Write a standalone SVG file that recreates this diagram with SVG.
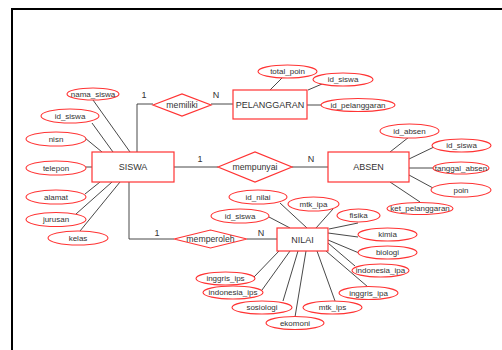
<svg xmlns="http://www.w3.org/2000/svg" width="502" height="350" viewBox="0 0 502 350">
<style>
  .ent{fill:#fff;stroke:#FF3333;stroke-width:1.2}
  .rel{fill:#fff;stroke:#FF3333;stroke-width:1.2}
  .att{fill:#fff;stroke:#FF3333;stroke-width:1.1}
  .t{font-family:"Liberation Sans",Arial,sans-serif;fill:#333;text-anchor:middle;dominant-baseline:central}
  .te{font-size:9px}
  .tr{font-size:8.7px}
  .ta{font-size:8px}
  .c{font-family:"Liberation Sans",Arial,sans-serif;fill:#333;font-size:9px;text-anchor:middle}
  .e{stroke:#333;stroke-width:0.9;fill:none}
</style>
<rect x="0" y="0" width="502" height="350" fill="#fff"/>
<rect x="12" y="9" width="600" height="400" fill="none" stroke="#000" stroke-width="2"/>

<g id="connectors">
  <!-- SISWA relations -->
  <polyline class="e" points="137,152 137,104 153,104"/>
  <line class="e" x1="211" y1="104" x2="233" y2="104"/>
  <line class="e" x1="174" y1="167" x2="218" y2="167"/>
  <line class="e" x1="292" y1="167" x2="328" y2="167"/>
  <polyline class="e" points="129,182 129,239 174,239"/>
  <line class="e" x1="247" y1="239" x2="277" y2="239"/>
  <!-- SISWA attributes -->
  <line class="e" x1="93" y1="100" x2="130" y2="152"/>
  <line class="e" x1="92" y1="123" x2="113" y2="152"/>
  <line class="e" x1="85" y1="138" x2="102" y2="152"/>
  <line class="e" x1="86" y1="167" x2="92" y2="167"/>
  <line class="e" x1="85" y1="194" x2="100" y2="182"/>
  <line class="e" x1="76" y1="214" x2="112" y2="182"/>
  <line class="e" x1="80" y1="231" x2="120" y2="182"/>
  <!-- PELANGGARAN attributes -->
  <line class="e" x1="270" y1="90" x2="282" y2="78"/>
  <line class="e" x1="308" y1="90" x2="322" y2="84"/>
  <line class="e" x1="307" y1="105" x2="321" y2="105"/>
  <!-- ABSEN attributes -->
  <line class="e" x1="390" y1="152" x2="409" y2="137"/>
  <line class="e" x1="409" y1="159" x2="434" y2="147"/>
  <line class="e" x1="409" y1="168" x2="433" y2="168"/>
  <line class="e" x1="409" y1="175" x2="433" y2="188"/>
  <line class="e" x1="390" y1="182" x2="420" y2="202"/>
  <!-- NILAI attributes -->
  <line class="e" x1="280" y1="203" x2="307" y2="228"/>
  <line class="e" x1="269" y1="217" x2="290" y2="228"/>
  <line class="e" x1="333" y1="209" x2="316" y2="228"/>
  <line class="e" x1="329" y1="229" x2="358" y2="223"/>
  <line class="e" x1="328" y1="233" x2="358" y2="237"/>
  <line class="e" x1="328" y1="240" x2="359" y2="253"/>
  <line class="e" x1="328" y1="243" x2="355" y2="266"/>
  <line class="e" x1="326" y1="251" x2="368" y2="287"/>
  <line class="e" x1="317" y1="251" x2="335" y2="301"/>
  <line class="e" x1="306" y1="251" x2="295" y2="317"/>
  <line class="e" x1="298" y1="251" x2="283" y2="301"/>
  <line class="e" x1="290" y1="251" x2="262" y2="290"/>
  <line class="e" x1="279" y1="251" x2="254" y2="277"/>
  <!-- cardinalities -->
  <text class="c" x="144" y="98">1</text>
  <text class="c" x="216" y="98">N</text>
  <text class="c" x="200" y="162">1</text>
  <text class="c" x="311" y="162">N</text>
  <text class="c" x="157" y="236">1</text>
  <text class="c" x="261" y="236">N</text>
</g>

<g id="SISWA"><rect class="ent" x="92" y="152" width="82" height="30"/><text class="t te" x="133" y="167">SISWA</text></g>
<g id="PELANGGARAN"><rect class="ent" x="233" y="90" width="74" height="29"/><text class="t te" x="270" y="104.5">PELANGGARAN</text></g>
<g id="ABSEN"><rect class="ent" x="328" y="152" width="81" height="30"/><text class="t te" x="368.5" y="167">ABSEN</text></g>
<g id="NILAI"><rect class="ent" x="277" y="228" width="51" height="23"/><text class="t te" x="302.5" y="239.5">NILAI</text></g>

<g id="memiliki"><polygon class="rel" points="153,105 182,94 211,105 182,116"/><text class="t tr" x="182" y="105">memiliki</text></g>
<g id="mempunyai"><polygon class="rel" points="218,167 255,152 292,167 255,182"/><text class="t tr" x="255" y="167">mempunyai</text></g>
<g id="memperoleh"><polygon class="rel" points="174,239 210.5,230 247,239 210.5,248"/><text class="t tr" x="210.5" y="239">memperoleh</text></g>

<g id="siswa_nama_siswa"><ellipse class="att" cx="93" cy="94" rx="26" ry="6"/><text class="t ta" x="93" y="94">nama_siswa</text></g>
<g id="siswa_id_siswa"><ellipse class="att" cx="70" cy="116" rx="29" ry="7"/><text class="t ta" x="70" y="116">id_siswa</text></g>
<g id="siswa_nisn"><ellipse class="att" cx="56" cy="139" rx="30" ry="7"/><text class="t ta" x="56" y="139">nisn</text></g>
<g id="siswa_telepon"><ellipse class="att" cx="56" cy="168" rx="30" ry="7"/><text class="t ta" x="56" y="168">telepon</text></g>
<g id="siswa_alamat"><ellipse class="att" cx="56" cy="197" rx="30" ry="7"/><text class="t ta" x="56" y="197">alamat</text></g>
<g id="siswa_jurusan"><ellipse class="att" cx="56" cy="219.5" rx="30" ry="7"/><text class="t ta" x="56" y="219.5">jurusan</text></g>
<g id="siswa_kelas"><ellipse class="att" cx="78" cy="238" rx="30" ry="7"/><text class="t ta" x="78" y="238">kelas</text></g>

<g id="pel_total_poin"><ellipse class="att" cx="287.5" cy="71.5" rx="29.5" ry="6.5"/><text class="t ta" x="287.5" y="71.5">total_poin</text></g>
<g id="pel_id_siswa"><ellipse class="att" cx="343" cy="79.5" rx="30" ry="6.5"/><text class="t ta" x="343" y="79.5">id_siswa</text></g>
<g id="pel_id_pelanggaran"><ellipse class="att" cx="358" cy="105" rx="37" ry="6.5"/><text class="t ta" x="358" y="105">id_pelanggaran</text></g>

<g id="absen_id_absen"><ellipse class="att" cx="409.5" cy="131" rx="29.5" ry="7"/><text class="t ta" x="409.5" y="131">id_absen</text></g>
<g id="absen_id_siswa"><ellipse class="att" cx="461.5" cy="145.5" rx="29.5" ry="6.5"/><text class="t ta" x="461.5" y="145.5">id_siswa</text></g>
<g id="absen_tanggal_absen"><ellipse class="att" cx="461" cy="168" rx="28" ry="6"/><text class="t ta" x="461" y="168">tanggal_absen</text></g>
<g id="absen_poin"><ellipse class="att" cx="461" cy="190" rx="30" ry="7"/><text class="t ta" x="461" y="190">poin</text></g>
<g id="absen_ket_pelanggaran"><ellipse class="att" cx="420" cy="208.5" rx="33" ry="6"/><text class="t ta" x="420" y="208.5">ket_pelanggaran</text></g>

<g id="nilai_id_nilai"><ellipse class="att" cx="258" cy="197" rx="29" ry="7"/><text class="t ta" x="258" y="197">id_nilai</text></g>
<g id="nilai_id_siswa"><ellipse class="att" cx="240" cy="216" rx="29" ry="7"/><text class="t ta" x="240" y="216">id_siswa</text></g>
<g id="nilai_mtk_ipa"><ellipse class="att" cx="313.5" cy="204" rx="25.5" ry="7"/><text class="t ta" x="313.5" y="204">mtk_ipa</text></g>
<g id="nilai_fisika"><ellipse class="att" cx="358.5" cy="215.5" rx="21.5" ry="6.5"/><text class="t ta" x="358.5" y="215.5">fisika</text></g>
<g id="nilai_kimia"><ellipse class="att" cx="387.5" cy="234.5" rx="29.5" ry="6.5"/><text class="t ta" x="387.5" y="234.5">kimia</text></g>
<g id="nilai_biologi"><ellipse class="att" cx="387.5" cy="252.5" rx="29.5" ry="6.5"/><text class="t ta" x="387.5" y="252.5">biologi</text></g>
<g id="nilai_indonesia_ipa"><ellipse class="att" cx="380.5" cy="270.5" rx="28.5" ry="6.5"/><text class="t ta" x="380.5" y="270.5">indonesia_ipa</text></g>
<g id="nilai_inggris_ipa"><ellipse class="att" cx="368.5" cy="293" rx="29.5" ry="6.5"/><text class="t ta" x="368.5" y="293">inggris_ipa</text></g>
<g id="nilai_mtk_ips"><ellipse class="att" cx="332.5" cy="307.5" rx="29.5" ry="6.5"/><text class="t ta" x="332.5" y="307.5">mtk_ips</text></g>
<g id="nilai_ekomoni"><ellipse class="att" cx="295" cy="323" rx="29" ry="6.5"/><text class="t ta" x="295" y="323">ekomoni</text></g>
<g id="nilai_sosiologi"><ellipse class="att" cx="262" cy="307.5" rx="30" ry="6.5"/><text class="t ta" x="262" y="307.5">sosiologi</text></g>
<g id="nilai_indonesia_ips"><ellipse class="att" cx="233" cy="292.5" rx="30" ry="6.5"/><text class="t ta" x="233" y="292.5">indonesia_ips</text></g>
<g id="nilai_inggris_ips"><ellipse class="att" cx="225.5" cy="278.5" rx="29.5" ry="6.5"/><text class="t ta" x="225.5" y="278.5">inggris_ips</text></g>
</svg>
